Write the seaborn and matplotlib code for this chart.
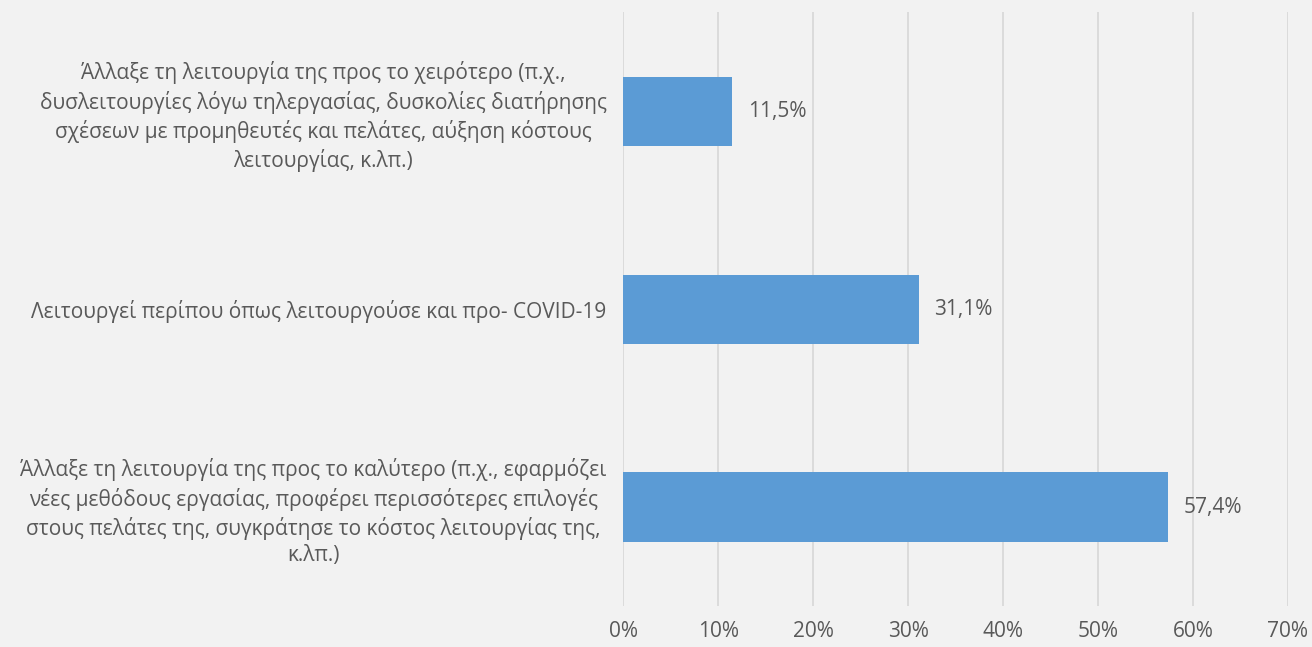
import matplotlib
matplotlib.use('Agg')
import matplotlib.pyplot as plt
import pandas as pd
import seaborn as sns
from matplotlib.ticker import FuncFormatter, MultipleLocator

categories = [
    'Άλλαξε τη λειτουργία της προς το χειρότερο (π.χ.,\n'
    'δυσλειτουργίες λόγω τηλεργασίας, δυσκολίες διατήρησης\n'
    'σχέσεων με προμηθευτές και πελάτες, αύξηση κόστους\n'
    'λειτουργίας, κ.λπ.)',
    'Λειτουργεί περίπου όπως λειτουργούσε και προ- COVID-19',
    'Άλλαξε τη λειτουργία της προς το καλύτερο (π.χ., εφαρμόζει\n'
    'νέες μεθόδους εργασίας, προφέρει περισσότερες επιλογές\n'
    'στους πελάτες της, συγκράτησε το κόστος λειτουργίας της,\n'
    'κ.λπ.)',
]
values = [11.5, 31.1, 57.4]

df = pd.DataFrame({'category': categories, 'value': values})

bg = '#f2f2f2'
text_color = '#595959'
bar_color = '#5b9bd5'
fs = 15

sns.set_theme(style='white')
plt.rcParams['font.family'] = ['Open Sans', 'DejaVu Sans']

fig = plt.figure(figsize=(13.12, 6.47), dpi=100, facecolor=bg)
ax = fig.add_axes([0.475, 0.0634, 0.9817 - 0.475, 0.981 - 0.0634])
ax.set_facecolor(bg)

sns.barplot(data=df, x='value', y='category', orient='h', color=bar_color,
            saturation=1, width=0.35, linewidth=0, ax=ax)

ax.set_xlim(0, 70)
ax.xaxis.set_major_locator(MultipleLocator(10))
ax.xaxis.set_major_formatter(FuncFormatter(lambda v, p: f'{v:.0f}%'))
ax.grid(axis='x', color='#d9d9d9', linewidth=1.3)
ax.set_axisbelow(True)
for s in ax.spines.values():
    s.set_visible(False)
ax.set_xlabel('')
ax.set_ylabel('')
ax.tick_params(axis='both', length=0, labelsize=fs, labelcolor=text_color)
ax.tick_params(axis='x', pad=11)
ax.tick_params(axis='y', pad=12)
for lbl in ax.get_yticklabels():
    lbl.set_multialignment('center')
    lbl.set_linespacing(1.35)

for i, v in enumerate(values):
    ax.text(v + 1.6, i, f'{v:.1f}%'.replace('.', ','), va='center', ha='left',
            fontsize=fs, color=text_color)

fig.savefig('out.png', dpi=100, facecolor=bg)
